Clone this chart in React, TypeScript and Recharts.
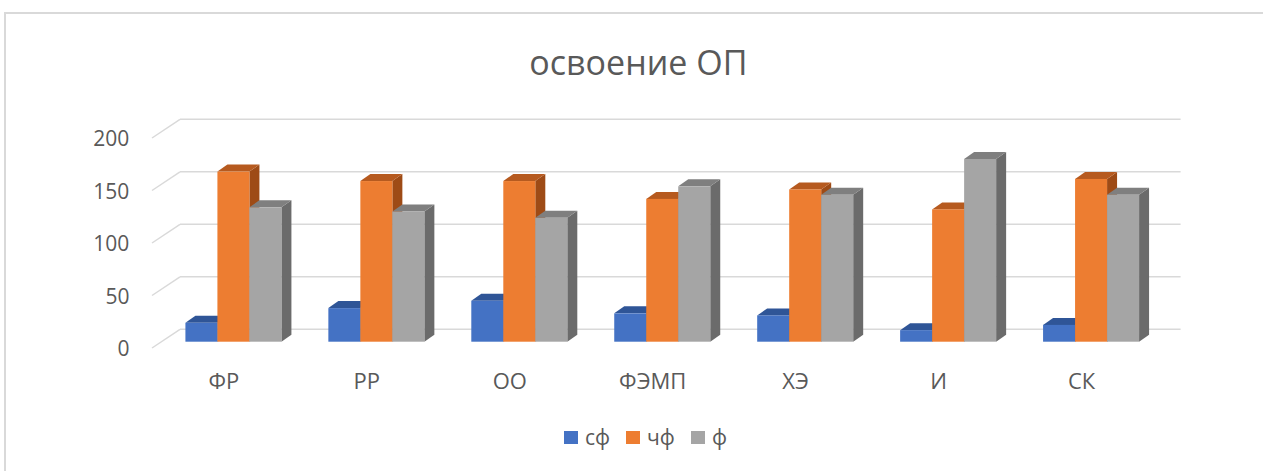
import React from "react";
import { BarChart, Bar, XAxis, YAxis, CartesianGrid } from "recharts";

const categories = ["ФР", "РР", "ОО", "ФЭМП", "ХЭ", "И", "СК"];
const sfValues = [18, 32, 39, 27, 25, 11, 16];
const chfValues = [162, 153, 153, 136, 145, 126, 155];
const fValues = [128, 124, 118, 148, 140, 174, 140];
const yTicks = [0, 50, 100, 150, 200];

const seriesNames = ["сф", "чф", "ф"];
const seriesKeys = ["sf", "chf", "f"];
const frontColors = ["#4472C4", "#ED7D31", "#A5A5A5"];
const topColors = ["#2F5597", "#B65A1F", "#7F7F7F"];
const sideColors = ["#284A86", "#9E4B16", "#6B6B6B"];

const data = categories.map((name, i) => ({
  name,
  sf: sfValues[i],
  chf: chfValues[i],
  f: fValues[i],
}));

const W = 1263;
const H = 471;
const PLOT_LEFT = 161.4;
const PLOT_RIGHT = 1162;
const PLOT_TOP = 131.7;
const PLOT_BOTTOM = 341.7;
const Y_AXIS_W = 60;
const X_AXIS_H = 30;

// 3D offsets: bar depth, back wall, front edge
const BAR_DX = 10;
const BAR_DY = 7;
const BACK_DX = 18.6;
const BACK_DY = 12.4;
const FRONT_DX = -9.4;
const FRONT_DY = 6.3;

const TEXT_COLOR = "#595959";
const GRID_COLOR = "#D9D9D9";
const FONT = "'Open Sans', 'Noto Sans', sans-serif";

const make3DBar = (idx: number) => (props: any) => {
  const { x, y, width, height } = props;
  if (width == null || height == null) return <g />;
  const top = `${x},${y} ${x + width},${y} ${x + width + BAR_DX},${y - BAR_DY} ${x + BAR_DX},${y - BAR_DY}`;
  const side = `${x + width},${y} ${x + width + BAR_DX},${y - BAR_DY} ${x + width + BAR_DX},${y + height - BAR_DY} ${x + width},${y + height}`;
  return (
    <g>
      <polygon points={side} fill={sideColors[idx]} />
      <polygon points={top} fill={topColors[idx]} />
      <rect x={x} y={y} width={width} height={height} fill={frontColors[idx]} />
    </g>
  );
};

const renderGridLine = (props: any) => {
  const { x1, x2, y1, index } = props;
  return (
    <g key={`grid-${index}-${y1}`}>
      <line
        x1={x1 + FRONT_DX}
        y1={y1 + FRONT_DY}
        x2={x1 + BACK_DX}
        y2={y1 - BACK_DY}
        stroke={GRID_COLOR}
        strokeWidth={1.5}
      />
      <line
        x1={x1 + BACK_DX}
        y1={y1 - BACK_DY}
        x2={x2 + BACK_DX}
        y2={y1 - BACK_DY}
        stroke={GRID_COLOR}
        strokeWidth={1.5}
      />
    </g>
  );
};

const YTick = (props: any) => {
  const { x, y, payload } = props;
  return (
    <text
      x={x - 32}
      y={y + FRONT_DY}
      textAnchor="end"
      dominantBaseline="central"
      fill={TEXT_COLOR}
      fontSize={21}
      fontFamily={FONT}
    >
      {payload.value}
    </text>
  );
};

const XTick = (props: any) => {
  const { x, y, payload } = props;
  return (
    <text
      x={x - 9}
      y={y + 38.6}
      textAnchor="middle"
      dominantBaseline="central"
      fill={TEXT_COLOR}
      fontSize={22}
      fontFamily={FONT}
    >
      {payload.value}
    </text>
  );
};

const App: React.FC = () => {
  return (
    <div
      style={{
        position: "absolute",
        left: 0,
        top: 0,
        width: W,
        height: H,
        overflow: "hidden",
        background: "#fff",
        fontFamily: FONT,
      }}
    >
      <div
        style={{
          position: "absolute",
          left: 4,
          top: 12,
          width: W + 100,
          height: H + 100,
          border: `2px solid ${GRID_COLOR}`,
        }}
      />
      <div
        style={{
          position: "absolute",
          left: 0,
          top: 44.5,
          width: 1276.8,
          textAlign: "center",
          fontSize: 34,
          lineHeight: "34px",
          color: TEXT_COLOR,
        }}
      >
        освоение ОП
      </div>
      <div style={{ position: "absolute", left: 0, top: 0 }}>
        <BarChart
          width={W}
          height={H}
          data={data}
          margin={{
            top: PLOT_TOP,
            left: PLOT_LEFT - Y_AXIS_W,
            right: W - PLOT_RIGHT,
            bottom: H - PLOT_BOTTOM - X_AXIS_H,
          }}
          barCategoryGap="16.8%"
          barGap={0}
        >
          <CartesianGrid
            vertical={false}
            horizontal={renderGridLine}
          />
          <XAxis
            dataKey="name"
            height={X_AXIS_H}
            axisLine={false}
            tickLine={false}
            tickSize={0}
            tickMargin={0}
            tick={<XTick />}
            interval={0}
          />
          <YAxis
            width={Y_AXIS_W}
            domain={[0, 200]}
            ticks={yTicks}
            axisLine={false}
            tickLine={false}
            tickSize={0}
            tickMargin={0}
            tick={<YTick />}
          />
          {seriesKeys.map((key, i) => (
            <Bar
              key={key}
              dataKey={key}
              name={seriesNames[i]}
              fill={frontColors[i]}
              shape={make3DBar(i)}
              isAnimationActive={false}
            />
          ))}
        </BarChart>
      </div>
      <div
        style={{
          position: "absolute",
          left: 564,
          top: 427,
          height: 20,
          display: "flex",
          alignItems: "center",
          fontSize: 21,
          lineHeight: "20px",
          color: TEXT_COLOR,
        }}
      >
        {seriesNames.map((name, i) => (
          <div
            key={name}
            style={{ display: "flex", alignItems: "center", marginRight: 16 }}
          >
            <span
              style={{
                display: "inline-block",
                width: 14,
                height: 13,
                background: frontColors[i],
                marginRight: 7,
              }}
            />
            <span>{name}</span>
          </div>
        ))}
      </div>
    </div>
  );
};

export default App;
